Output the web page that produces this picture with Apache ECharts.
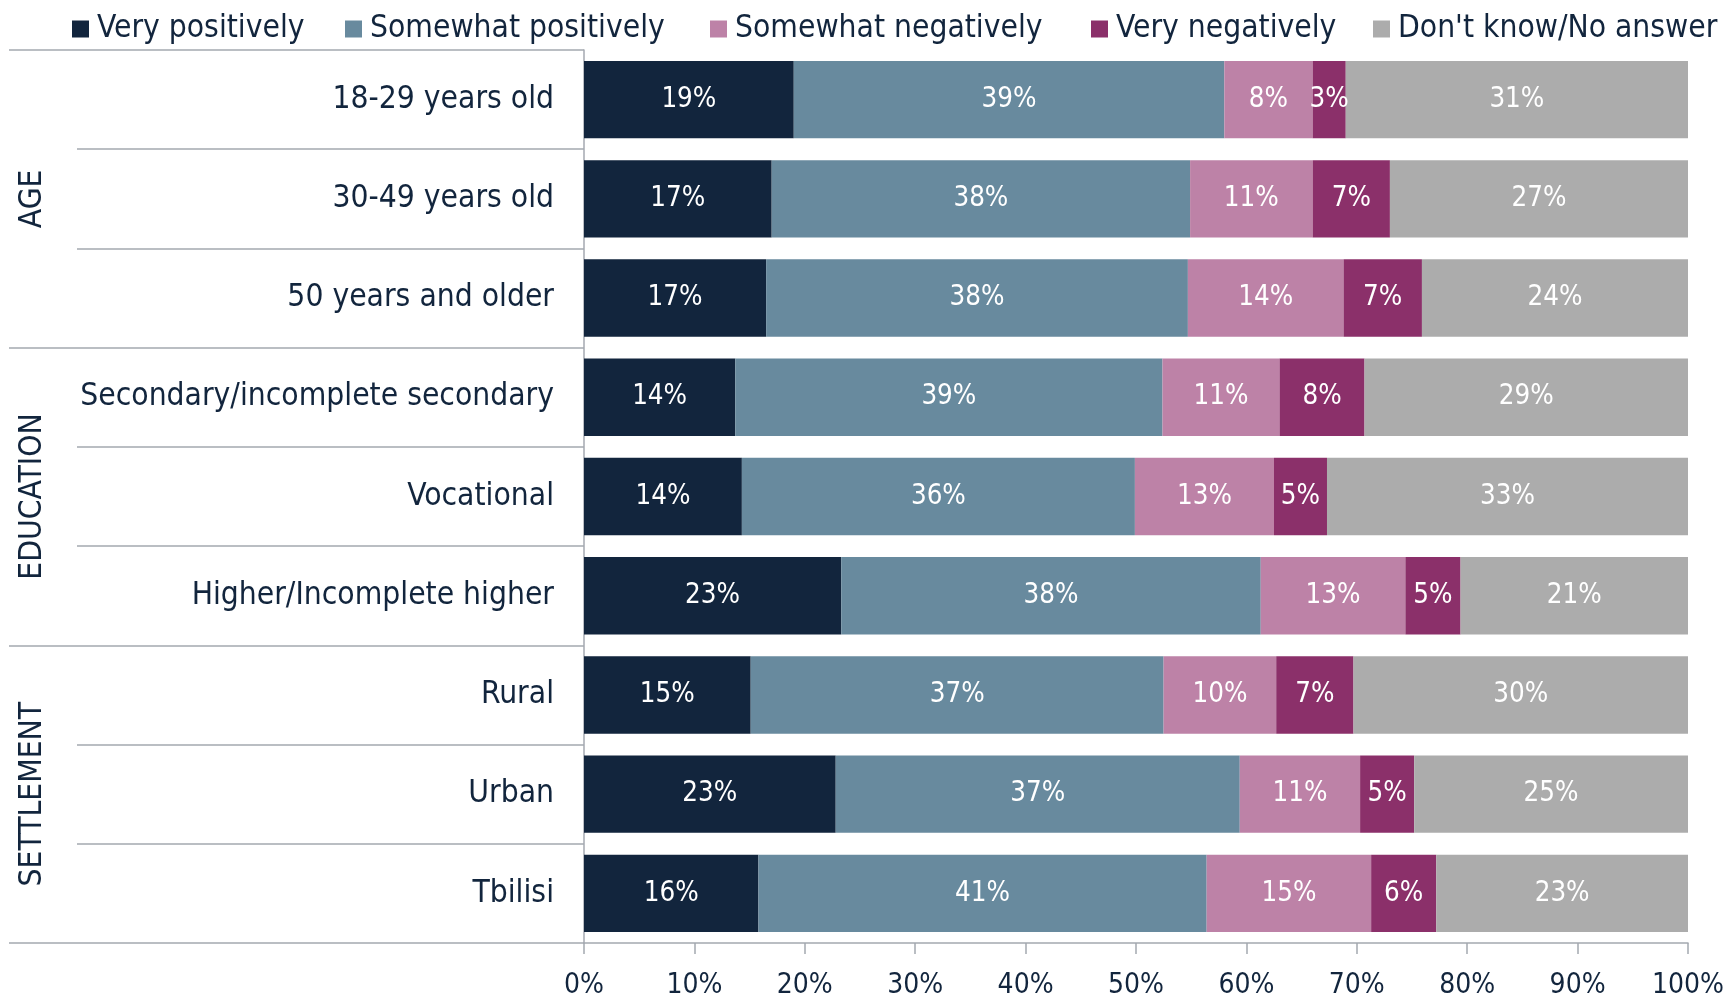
<!DOCTYPE html>
<html>
<head>
<meta charset="utf-8">
<script src="https://cdn.jsdelivr.net/npm/echarts@6/dist/echarts.min.js"></script>
<style>html,body{margin:0;padding:0;background:#fff}#c{width:1727px;height:1000px}</style>
</head>
<body>
<div id="c"></div>
<script>
const categories = ['18-29 years old','30-49 years old','50 years and older','Secondary/incomplete secondary','Vocational','Higher/Incomplete higher','Rural','Urban','Tbilisi'];
const groups = ['AGE','EDUCATION','SETTLEMENT'];
const seriesNames = ['Very positively','Somewhat positively','Somewhat negatively','Very negatively',"Don't know/No answer"];
const veryPos     = [19.0, 17.0, 16.5, 13.7, 14.3, 23.3, 15.1, 22.8, 15.8];
const somewhatPos = [39.0, 37.9, 38.2, 38.7, 35.6, 38.0, 37.4, 36.6, 40.6];
const somewhatNeg = [8.0, 11.1, 14.1, 10.6, 12.6, 13.1, 10.2, 10.9, 14.9];
const veryNeg     = [3.0, 7.0, 7.1, 7.7, 4.8, 5.0, 7.0, 4.9, 5.9];
const dontKnow    = [31.0, 27.0, 24.1, 29.3, 32.7, 20.6, 30.3, 24.8, 22.8];
const xTicks = [0,10,20,30,40,50,60,70,80,90,100];

const colors = ['#12253d','#688a9e','#bd82a7','#8b306a','#acacac'];
const FONT = '"DejaVu Sans Condensed","DejaVu Sans",sans-serif';
const TXT = '#12253d';
const LINE = '#a4a9b0';
const allData = [veryPos, somewhatPos, somewhatNeg, veryNeg, dontKnow];
const legendLefts = [67, 340, 705, 1086, 1368];

const chart = echarts.init(document.getElementById('c'), null, {renderer:'canvas'});
chart.setOption({
  animation:false,
  color: colors,
  textStyle:{fontFamily:FONT},
  legend: seriesNames.map((n,i)=>({
    left:legendLefts[i], top:8, itemWidth:17, itemHeight:17, icon:'rect',
    textStyle:{fontFamily:FONT, fontSize:31.5, color:TXT, padding:[0,0,0,3]},
    data:[n]
  })),
  grid:{left:584, right:37, top:50, bottom:55, containLabel:false},
  xAxis:{
    type:'value', min:xTicks[0], max:xTicks[xTicks.length-1], interval:10,
    axisLine:{show:true, lineStyle:{color:LINE, width:1.5}},
    axisTick:{show:true, length:11, lineStyle:{color:LINE, width:1.5}},
    splitLine:{show:false},
    axisLabel:{formatter:'{value}%', fontFamily:FONT, fontSize:28, color:TXT, margin:29}
  },
  yAxis:[{
    type:'category', data:categories, inverse:true,
    axisLine:{show:true, lineStyle:{color:LINE, width:1.5}},
    axisTick:{show:true, length:507, lineStyle:{color:LINE, width:1.5}},
    axisLabel:{fontFamily:FONT, fontSize:31.5, color:TXT, margin:30}
  },{
    type:'category', data:categories, inverse:true, position:'left',
    axisLine:{show:false},
    axisTick:{show:true, length:575, interval:function(i){return i%3===0;}, lineStyle:{color:LINE, width:1.5}},
    axisLabel:{show:false}
  },{
    type:'category', data:groups, inverse:true, position:'left',
    axisLine:{show:false}, axisTick:{show:false},
    axisLabel:{rotate:90, fontFamily:FONT, fontSize:31.5, color:TXT, margin:535}
  }],
  series: seriesNames.map((n,i)=>({
    name:n, type:'bar', stack:'all', barWidth:'78%', yAxisIndex:0,
    data: allData[i],
    itemStyle:{color:colors[i]},
    label:{show:true, position:'inside', color:'#ffffff', fontFamily:FONT, fontSize:27.5,
      formatter:p=>Math.round(p.value)+'%'}
  }))
});
</script>
</body>
</html>
